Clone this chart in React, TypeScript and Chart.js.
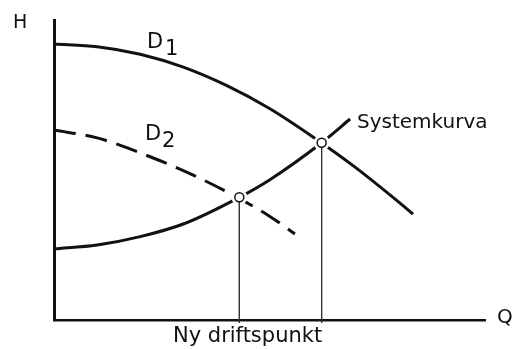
import React, { useEffect, useRef } from "react";
import { Chart, registerables } from "chart.js";

Chart.register(...registerables);

// Pump curve D1 (full speed)
const d1Q = [0, 10, 20, 30, 40, 50, 60, 70, 80, 83.3];
const d1H = [92, 91.1, 88.6, 84.3, 78.2, 70.5, 61.1, 50.8, 39.3, 35.3];
// Pump curve D2 (reduced)
const d2Q = [0, 10, 20, 30, 40, 50, 55.9];
const d2H = [63.3, 60.7, 55.7, 49.8, 42.8, 34.6, 28.7];
// System curve
const sysQ = [0, 10, 20, 30, 43, 50, 62.1, 68.7];
const sysH = [23.7, 25, 27.8, 32, 40.9, 46.7, 59.1, 67];
// Operating points (intersections)
const opQ = [43, 62.1];
const opH = [40.9, 59.1];

const labels = {
  yAxis: "H",
  xAxis: "Q",
  d1: ["D", "1"],
  d2: ["D", "2"],
  system: "Systemkurva",
  newPoint: "Ny driftspunkt",
};

const pts = (xs: number[], ys: number[]) => xs.map((x, i) => ({ x, y: ys[i] }));

const labelPlugin = {
  id: "textLabels",
  afterDatasetsDraw(chart: any) {
    const { ctx, chartArea: a } = chart;
    ctx.save();
    ctx.fillStyle = "#111";
    ctx.textBaseline = "alphabetic";
    ctx.textAlign = "left";
    const f = (s: number) => `${s}px "DejaVu Sans", sans-serif`;
    ctx.font = f(19);
    ctx.fillText(labels.yAxis, a.left - 41, a.top + 8);
    ctx.font = f(20);
    ctx.fillText(labels.xAxis, a.right + 12, a.bottom + 3);
    ctx.font = f(21);
    ctx.fillText(labels.d1[0], a.left + 93, a.top + 28);
    ctx.fillText(labels.d1[1], a.left + 111, a.top + 35);
    ctx.fillText(labels.d2[0], a.left + 91, a.top + 120);
    ctx.fillText(labels.d2[1], a.left + 108, a.top + 127);
    ctx.font = f(20);
    ctx.fillText(labels.system, a.left + 303, a.top + 108);
    ctx.font = f(21);
    ctx.fillText(labels.newPoint, a.left + 119, a.bottom + 22);
    ctx.restore();
  },
};

export default function App() {
  const ref = useRef<HTMLCanvasElement | null>(null);
  useEffect(() => {
    if (!ref.current) return;
    const black = "#111";
    const chart = new Chart(ref.current, {
      type: "line",
      data: {
        datasets: [
          {
            data: pts(d1Q, d1H),
            borderColor: black,
            borderWidth: 3,
            pointRadius: 0,
            cubicInterpolationMode: "monotone",
            order: 10,
          },
          {
            data: pts(d2Q, d2H),
            borderColor: black,
            borderWidth: 3,
            borderDash: [22, 10],
            pointRadius: 0,
            cubicInterpolationMode: "monotone",
            order: 10,
          },
          {
            data: pts(sysQ, sysH),
            borderColor: black,
            borderWidth: 3,
            pointRadius: 0,
            cubicInterpolationMode: "monotone",
            order: 10,
          },
          {
            // white halo around operating points
            data: pts(opQ, opH),
            showLine: false,
            pointRadius: 8,
            pointBackgroundColor: "#fff",
            pointBorderWidth: 0,
            pointBorderColor: "#fff",
            order: 6,
          },
          {
            data: [
              { x: opQ[0], y: opH[0] },
              { x: opQ[0], y: -1 },
            ],
            borderColor: "#333",
            borderWidth: 1,
            pointRadius: 0,
            clip: false as any,
            order: 4,
          },
          {
            data: [
              { x: opQ[1], y: opH[1] },
              { x: opQ[1], y: -1 },
            ],
            borderColor: "#333",
            borderWidth: 1,
            pointRadius: 0,
            clip: false as any,
            order: 4,
          },
          {
            data: pts(opQ, opH),
            showLine: false,
            pointRadius: 4.5,
            pointBackgroundColor: "#fff",
            pointBorderWidth: 1.5,
            pointBorderColor: black,
            order: 1,
          },
        ],
      },
      options: {
        responsive: false,
        animation: false,
        layout: { padding: { left: 54, right: 28, top: 20, bottom: 29 } },
        plugins: { legend: { display: false }, tooltip: { enabled: false } },
        scales: {
          x: {
            type: "linear",
            min: 0,
            max: 100,
            grid: { display: false, drawTicks: false },
            ticks: { display: false },
            border: { display: true, color: black, width: 2.5 },
          },
          y: {
            type: "linear",
            min: 0,
            max: 100,
            grid: { display: false, drawTicks: false },
            ticks: { display: false },
            border: { display: true, color: black, width: 3 },
          },
        },
      },
      plugins: [labelPlugin],
    });
    return () => chart.destroy();
  }, []);
  return (
    <div style={{ position: "fixed", left: 0, top: 0, width: 513, height: 349, background: "#fff" }}>
      <canvas ref={ref} width={513} height={349} />
    </div>
  );
}
